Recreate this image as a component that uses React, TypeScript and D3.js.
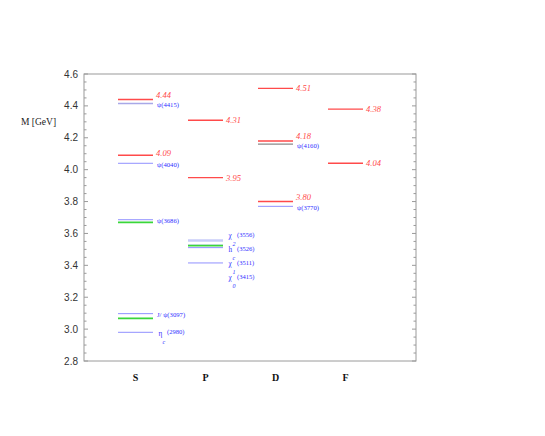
import React from "react";
import * as d3 from "d3";

const waves = ["S", "P", "D", "F"];
const yTicks = [2.8, 3.0, 3.2, 3.4, 3.6, 3.8, 4.0, 4.2, 4.4, 4.6];

// model (theory) levels, red
const theoryWave = ["S", "S", "P", "P", "D", "D", "D", "F", "F"];
const theoryMass = [4.44, 4.09, 4.31, 3.95, 4.51, 4.18, 3.8, 4.38, 4.04];
const theoryText = ["4.44", "4.09", "4.31", "3.95", "4.51", "4.18", "3.80", "4.38", "4.04"];

// second model levels, green
const greenWave = ["S", "S", "P"];
const greenMass = [3.67, 3.067, 3.524];

// experimental states, blue
const expWave = ["S", "S", "S", "S", "S", "P", "P", "P", "P", "D", "D"];
const expMass = [4.415, 4.04, 3.686, 3.097, 2.98, 3.556, 3.526, 3.511, 3.415, 4.16, 3.77];
const expName = ["ψ", "ψ", "ψ", "J/ ψ", "η", "χ", "h", "χ", "χ", "ψ", "ψ"];
const expSub = ["", "", "", "", "c", "2", "c", "1", "0", "", ""];
const expCode = ["(4415)", "(4040)", "(3686)", "(3097)", "(2980)", "(3556)", "(3526)", "(3511)", "(3415)", "(4160)", "(3770)"];
const expTone = ["pale", "blue", "blue", "blue", "blue", "faint", "blue", "blue", "blue", "grey", "blue"];

const W = 545, H = 436;
const left = 84, right = 416, top = 74, bottom = 361;
const halfLen = 17.5;

export default function App() {
  const y = d3.scaleLinear().domain([2.8, 4.6]).range([bottom, top]);
  const x = d3.scalePoint<string>().domain(waves).range([135.5, 345.5]);
  const minor = d3.range(56, 93).map((v) => v / 20);
  const axisCol = "#9a9a9a";
  const red = "#ff4a4a";
  const green = "#3ad63a";
  const labelBlue = "#3030ff";
  const toneColor: Record<string, string> = {
    blue: "#9090ff",
    pale: "#a8a8e8",
    faint: "#c8ccf8",
    grey: "#8a8a8a",
  };
  const toneWidth: Record<string, number> = { blue: 1, pale: 1.5, faint: 2.5, grey: 1.3 };

  // label layout for blue labels in the crowded P column: stack them
  const labelY: number[] = expMass.map((m) => y(m) + 3);
  const idx = expMass.map((_, i) => i).filter((i) => expWave[i] === "P");
  idx.sort((a, b) => expMass[b] - expMass[a]);
  let prev = -Infinity;
  idx.forEach((i, k) => {
    let c = y(expMass[i]) + 2;
    if (k === 0) c = y(expMass[i]) - 4.5;
    c = Math.max(c, prev + 14);
    labelY[i] = c;
    prev = c;
  });

  return (
    <svg
      width={W}
      height={H}
      style={{ position: "absolute", left: 0, top: 0, background: "#fff" }}
    >
      {/* frame */}
      <rect x={left} y={top} width={right - left} height={bottom - top} fill="none" stroke={axisCol} strokeWidth={1} />
      {minor.map((v) => {
        const major = Math.abs(v * 5 - Math.round(v * 5)) < 1e-6;
        const len = major ? 4 : 2.5;
        return (
          <g key={v}>
            <line x1={left} x2={left + len} y1={y(v)} y2={y(v)} stroke={axisCol} />
            <line x1={right} x2={right - len} y1={y(v)} y2={y(v)} stroke={axisCol} />
          </g>
        );
      })}
      {yTicks.map((v) => (
        <text
          key={v}
          x={78}
          y={y(v) + 3.5}
          textAnchor="end"
          fontFamily="Liberation Sans, Arial, sans-serif"
          fontSize={10}
          fill="#333"
        >
          {v.toFixed(1)}
        </text>
      ))}
      <text x={21} y={125} fontFamily="Liberation Serif, Times New Roman, serif" fontSize={9.5} fill="#222">
        M [GeV]
      </text>
      {waves.map((w) => (
        <text
          key={w}
          x={x(w)}
          y={381}
          textAnchor="middle"
          fontFamily="Liberation Serif, Times New Roman, serif"
          fontWeight="bold"
          fontSize={10}
          fill="#111"
        >
          {w}
        </text>
      ))}

      {/* experimental */}
      {expMass.map((m, i) => {
        const cx = x(expWave[i])!;
        return (
          <line
            key={"e" + i}
            x1={cx - halfLen}
            x2={cx + halfLen}
            y1={y(m)}
            y2={y(m)}
            stroke={toneColor[expTone[i]]}
            strokeWidth={toneWidth[expTone[i]]}
          />
        );
      })}
      {/* green */}
      {greenMass.map((m, i) => {
        const cx = x(greenWave[i])!;
        return (
          <line key={"g" + i} x1={cx - halfLen} x2={cx + halfLen} y1={y(m)} y2={y(m)} stroke={green} strokeWidth={1.8} />
        );
      })}
      {/* theory */}
      {theoryMass.map((m, i) => {
        const cx = x(theoryWave[i])!;
        return (
          <line key={"t" + i} x1={cx - halfLen} x2={cx + halfLen} y1={y(m)} y2={y(m)} stroke={red} strokeWidth={1.4} />
        );
      })}
      {theoryMass.map((m, i) => {
        const cx = x(theoryWave[i])!;
        const gap = d3.min(
          expMass.filter((e, j) => expWave[j] === theoryWave[i] && e < m).map((e) => y(e) - y(m))
        );
        const dy = gap === undefined || gap > 9 ? 3 : gap > 6 ? 1 : -1.8;
        return (
          <text
            key={"tl" + i}
            x={cx + halfLen + 3}
            y={y(m) + dy}
            fontFamily="Liberation Serif, Times New Roman, serif"
            fontStyle="italic"
            fontSize={8.5}
            fill={red}
          >
            {theoryText[i]}
          </text>
        );
      })}
      {expMass.map((m, i) => {
        const cx = x(expWave[i])!;
        const lx = cx + halfLen + 4;
        const by = expWave[i] === "P" ? labelY[i] + 2.5 : y(m) + 3.5;
        const f = "Liberation Serif, Times New Roman, serif";
        if (expSub[i]) {
          return (
            <g key={"el" + i} fontFamily={f} fill={labelBlue}>
              <text x={lx + 1.5} y={by} fontSize={7.2}>
                {expName[i]}
              </text>
              <text x={lx + 10} y={by - 1.5} fontSize={6.5}>
                {expCode[i]}
              </text>
              <text x={lx + 5.5} y={by + 8} fontSize={6} fontStyle="italic">
                {expSub[i]}
              </text>
            </g>
          );
        }
        return (
          <text key={"el" + i} x={lx} y={by} fontFamily={f} fontSize={6.7} fill={labelBlue}>
            {expName[i] + expCode[i]}
          </text>
        );
      })}
    </svg>
  );
}
